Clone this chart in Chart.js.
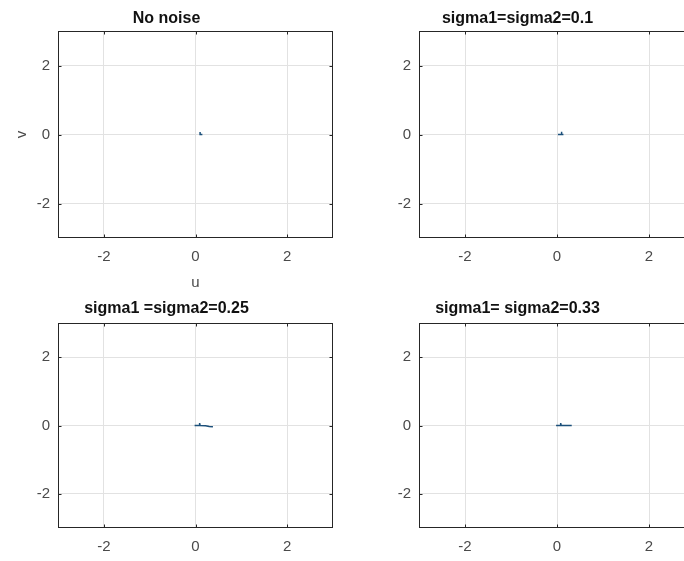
<!DOCTYPE html>
<html>
<head>
<meta charset="utf-8">
<script src="https://cdn.jsdelivr.net/npm/chart.js@4.4.1/dist/chart.umd.min.js"></script>
<style>
  html, body { margin: 0; padding: 0; background: #fff; }
  body { position: relative; width: 684px; height: 561px; overflow: hidden; }
  canvas { position: absolute; }
</style>
</head>
<body>
<canvas id="p1" width="340" height="300" style="left:0;top:0"></canvas>
<canvas id="p2" width="360" height="300" style="left:340px;top:0"></canvas>
<canvas id="p3" width="340" height="281" style="left:0;top:280px"></canvas>
<canvas id="p4" width="360" height="281" style="left:340px;top:280px"></canvas>
<script>
// subplot titles
const titles = ["No noise", "sigma1=sigma2=0.1", "sigma1 =sigma2=0.25", "sigma1= sigma2=0.33"];

// axis limits and tick marks (same for u and v)
const axisMin = -3;
const axisMax = 3;
const tickValues = [-2, 0, 2];

// trajectories in the (u, v) plane
const noNoiseU = [0.1, 0.1, 0.15];
const noNoiseV = [0.07, 0.0, 0.0];

const sigma01U = [0.02, 0.1, 0.1, 0.1, 0.14];
const sigma01V = [0.0, 0.0, 0.08, 0.0, 0.0];

const sigma025U = [-0.02, 0.08, 0.09, 0.1, 0.22, 0.3, 0.38];
const sigma025V = [0.0, 0.0, 0.07, 0.0, -0.01, -0.03, -0.04];

const sigma033U = [-0.02, 0.07, 0.08, 0.09, 0.2, 0.32];
const sigma033V = [0.0, 0.0, 0.07, 0.0, 0.0, 0.0];

const panels = [
  { id: "p1", u: noNoiseU, v: noNoiseV, area: { left: 58, top: 31, right: 333, bottom: 238 }, titleGap: 3, xTitle: "u", yTitle: "v" },
  { id: "p2", u: sigma01U, v: sigma01V, area: { left: 79, top: 31, right: 355, bottom: 238 }, titleGap: 3 },
  { id: "p3", u: sigma025U, v: sigma025V, area: { left: 58, top: 43, right: 333, bottom: 248 }, titleGap: 5 },
  { id: "p4", u: sigma033U, v: sigma033V, area: { left: 79, top: 43, right: 355, bottom: 248 }, titleGap: 5 },
];

const lineColor = "#1b4f7a";
const tickColor = "#4a4a4a";
const fontFamily = "'Liberation Sans', Arial, sans-serif";
const titleSize = 16;
const labelSize = 15;

// axes box with inward tick marks
const boxPlugin = {
  id: "box",
  afterDraw(chart) {
    const { ctx, chartArea: a, scales } = chart;
    ctx.save();
    ctx.strokeStyle = "#262626";
    ctx.lineWidth = 1;
    const l = Math.round(a.left) + 0.5, r = Math.round(a.right) - 0.5;
    const t = Math.round(a.top) + 0.5, b = Math.round(a.bottom) - 0.5;
    ctx.strokeRect(l, t, r - l, b - t);
    ctx.beginPath();
    tickValues.forEach((val) => {
      const x = Math.round(scales.x.getPixelForValue(val)) + 0.5;
      ctx.moveTo(x, b); ctx.lineTo(x, b - 3);
      ctx.moveTo(x, t); ctx.lineTo(x, t + 3);
      const y = Math.round(scales.y.getPixelForValue(val)) + 0.5;
      ctx.moveTo(l, y); ctx.lineTo(l + 3, y);
      ctx.moveTo(r, y); ctx.lineTo(r - 3, y);
    });
    ctx.stroke();
    ctx.restore();
  },
};

function setTicks(axis) {
  axis.ticks = tickValues.map((value) => ({ value }));
}

panels.forEach((p, i) => {
  const canvas = document.getElementById(p.id);
  const W = canvas.width, H = canvas.height;
  const a = p.area;

  new Chart(canvas, {
    type: "scatter",
    data: {
      datasets: [
        {
          data: p.u.map((u, k) => ({ x: u, y: p.v[k] })),
          showLine: true,
          borderColor: lineColor,
          borderWidth: 1.5,
          pointRadius: 0,
          tension: 0,
        },
      ],
    },
    options: {
      responsive: false,
      animation: false,
      events: [],
      layout: {
        padding: { left: 0, right: W - a.right, top: a.top - titleSize * 1.2 - p.titleGap, bottom: 0 },
      },
      plugins: {
        legend: { display: false },
        tooltip: { enabled: false },
        title: {
          display: true,
          text: titles[i],
          color: "#111",
          font: { family: fontFamily, size: titleSize, weight: "bold", lineHeight: 1.2 },
          padding: { top: 0, bottom: p.titleGap },
        },
      },
      scales: {
        x: {
          type: "linear",
          min: axisMin,
          max: axisMax,
          afterBuildTicks: setTicks,
          afterFit: (scale) => { scale.height = H - a.bottom; },
          grid: { color: "#e2e2e2", drawTicks: false },
          border: { display: false },
          ticks: { color: tickColor, padding: 10, font: { family: fontFamily, size: labelSize } },
          title: {
            display: !!p.xTitle,
            text: p.xTitle || "",
            color: tickColor,
            font: { family: fontFamily, size: labelSize },
            padding: { top: 0, bottom: 8 },
          },
        },
        y: {
          type: "linear",
          min: axisMin,
          max: axisMax,
          afterBuildTicks: setTicks,
          afterFit: (scale) => { scale.width = a.left; },
          grid: { color: "#e2e2e2", drawTicks: false },
          border: { display: false },
          ticks: { color: tickColor, padding: 8, font: { family: fontFamily, size: labelSize } },
          title: {
            display: !!p.yTitle,
            text: p.yTitle || "",
            color: tickColor,
            font: { family: fontFamily, size: labelSize },
            padding: { top: 13, bottom: 0 },
          },
        },
      },
    },
    plugins: [boxPlugin],
  });
});
</script>
</body>
</html>
